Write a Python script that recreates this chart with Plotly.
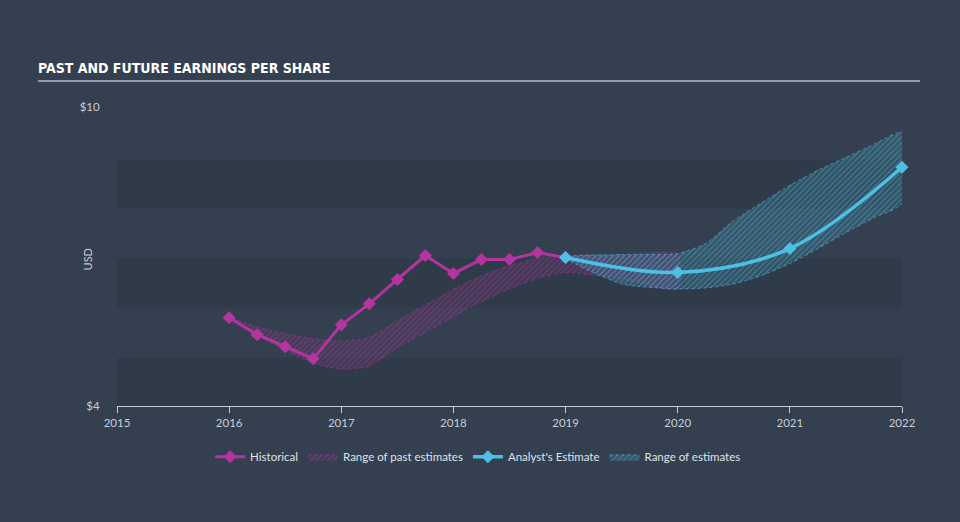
import plotly.graph_objects as go

# ---------------- data ----------------
hist_x = [2016.0, 2016.25, 2016.5, 2016.75, 2017.0, 2017.25, 2017.5, 2017.75,
          2018.0, 2018.25, 2018.5, 2018.75, 2019.0]
hist_y = [5.77, 5.43, 5.19, 4.95, 5.63, 6.05, 6.54, 7.02, 6.66, 6.94, 6.94, 7.08, 6.98]

past_x = [2016.0, 2016.25, 2016.5, 2016.75, 2017.0, 2017.25, 2017.5, 2017.75,
          2018.0, 2018.25, 2018.5, 2018.75, 2019.0, 2019.5, 2020.0]
past_hi = [5.77, 5.59, 5.45, 5.35, 5.30, 5.38, 5.71, 6.03, 6.35, 6.62, 6.82, 6.96, 7.02, 7.03, 7.05]
past_lo = [5.77, 5.43, 5.12, 4.86, 4.74, 4.80, 5.18, 5.47, 5.79, 6.09, 6.35, 6.56, 6.68, 6.55, 6.35]

est_x = [2019.0, 2020.0, 2021.0, 2022.0]
est_y = [6.98, 6.68, 7.16, 8.79]

rng_x = [2019.0, 2019.5, 2020.0, 2020.25, 2020.5, 2020.75, 2021.0, 2021.25, 2021.5, 2021.75, 2022.0]
rng_hi = [6.98, 7.04, 7.06, 7.26, 7.72, 8.08, 8.43, 8.73, 8.99, 9.25, 9.49]
rng_lo = [6.98, 6.45, 6.35, 6.37, 6.45, 6.62, 6.86, 7.16, 7.48, 7.78, 8.06]

year_ticks = [2015, 2016, 2017, 2018, 2019, 2020, 2021, 2022]
y_ticks = [4, 10]
y_tick_text = ["$4", "$10"]
stripe_bands = [(4, 4.97), (5.97, 6.96), (7.96, 8.95)]

# ---------------- style ----------------
BG = "#343f4f"
STRIPE = "#303b4a"
MAG = "#b4359f"
BLUE = "#4dc0e6"
TXT = "#c9ced4"
FONT = "Lato, sans-serif"

fig = go.Figure()

fig.add_trace(go.Scatter(
    x=past_x + past_x[::-1], y=past_hi + past_lo[::-1],
    fill="toself", mode="lines",
    line=dict(color="rgba(180,53,159,0.6)", width=0.8, dash="dot", shape="spline", smoothing=0.6),
    fillcolor="rgba(0,0,0,0)",
    fillpattern=dict(shape="/", fgcolor="rgba(180,53,159,0.85)", bgcolor="rgba(180,53,159,0.10)",
                     size=4, solidity=0.3),
    name="Range of past estimates", legendrank=2, hoverinfo="skip"))

fig.add_trace(go.Scatter(
    x=rng_x + rng_x[::-1], y=rng_hi + rng_lo[::-1],
    fill="toself", mode="lines",
    line=dict(color="rgba(77,192,230,0.75)", width=0.8, dash="dot", shape="spline", smoothing=0.6),
    fillcolor="rgba(0,0,0,0)",
    fillpattern=dict(shape="/", fgcolor="rgba(77,192,230,0.8)", bgcolor="rgba(77,192,230,0.16)",
                     size=4, solidity=0.3),
    name="Range of estimates", legendrank=4, hoverinfo="skip"))

fig.add_trace(go.Scatter(
    x=hist_x, y=hist_y, mode="lines+markers",
    line=dict(color=MAG, width=3),
    marker=dict(symbol="diamond", size=10, color=MAG),
    name="Historical", legendrank=1, cliponaxis=False))

fig.add_trace(go.Scatter(
    x=est_x, y=est_y, mode="lines+markers",
    line=dict(color=BLUE, width=3.5, shape="spline", smoothing=1.0),
    marker=dict(symbol="diamond", size=10, color=BLUE),
    name="Analyst's Estimate", legendrank=3, cliponaxis=False))

shapes = []
for lo, hi in stripe_bands:
    shapes.append(dict(type="rect", xref="x", yref="y", x0=year_ticks[0], x1=year_ticks[-1],
                       y0=lo, y1=hi, fillcolor=STRIPE, line=dict(width=0), layer="below"))
# title underline
shapes.append(dict(type="line", xref="paper", yref="paper", x0=-0.1006, x1=1.023,
                   y0=1.087, y1=1.087, line=dict(color="#b8bec6", width=1.5)))

fig.update_layout(
    width=960, height=522,
    paper_bgcolor=BG, plot_bgcolor=BG,
    margin=dict(l=117, r=58, t=107, b=116),
    title=dict(text="<b>PAST AND FUTURE EARNINGS PER SHARE</b>",
               xref="container", yref="container", x=38 / 960, xanchor="left",
               y=1 - 68 / 522, yanchor="middle",
               font=dict(family="DejaVu Sans Condensed, Liberation Sans Narrow, sans-serif",
                         size=14, color="#ffffff")),
    shapes=shapes,
    annotations=[dict(text="USD", xref="paper", yref="paper", x=-0.037, y=0.49,
                      xanchor="center", yanchor="middle", textangle=-90, showarrow=False,
                      font=dict(family=FONT, size=11, color=TXT))],
    showlegend=True,
    legend=dict(orientation="h", x=0.46, xanchor="center", y=-0.17, yanchor="middle",
                font=dict(family=FONT, size=11.5, color="#dfe3e8"),
                bgcolor="rgba(0,0,0,0)", itemwidth=30, traceorder="normal"),
    xaxis=dict(range=[2015, 2022], tickvals=year_ticks, ticktext=[str(t) for t in year_ticks],
               showgrid=False, zeroline=False, showline=True, linecolor="#c5cbd2", linewidth=1,
               ticks="outside", ticklen=6, tickcolor="#c5cbd2",
               tickfont=dict(family=FONT, size=11.5, color=TXT)),
    yaxis=dict(range=[4, 10], tickvals=y_ticks, ticktext=y_tick_text,
               showgrid=False, zeroline=False, showline=False,
               ticks="outside", ticklen=14, tickcolor="rgba(0,0,0,0)",
               tickfont=dict(family=FONT, size=11.5, color=TXT)),
)

fig.write_html("out.html")
